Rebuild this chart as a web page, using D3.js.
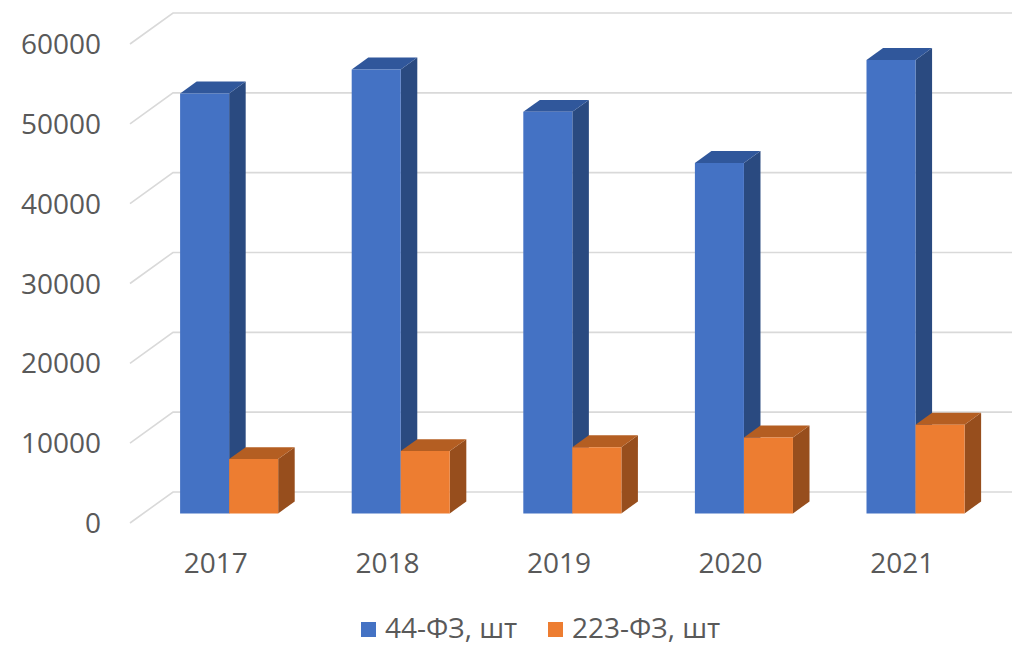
<!DOCTYPE html>
<html>
<head>
<meta charset="utf-8">
<script src="https://cdn.jsdelivr.net/npm/d3@7"></script>
<style>
  html, body { margin: 0; padding: 0; background: #fff; }
  svg { display: block; }
  text { font-family: "Open Sans", "Noto Sans", sans-serif; fill: #595959; }
</style>
</head>
<body>
<svg id="chart" width="1012" height="646"></svg>
<script>
// ---- data ----
const years = ["2017", "2018", "2019", "2020", "2021"];
const seriesNames = ["44-ФЗ, шт", "223-ФЗ, шт"];
const fz44 = [52600, 55600, 50300, 43900, 56800];
const fz223 = [6800, 7800, 8300, 9500, 11100];
const yTicks = [0, 10000, 20000, 30000, 40000, 50000, 60000];

// ---- styles ----
const faceColors = [
  { front: "#4472C4", side: "#2A4A80", top: "#30579B" },
  { front: "#ED7D31", side: "#974E1D", top: "#B45E22" }
];

const W = 1012, H = 646;
const svg = d3.select("#chart");

// oblique projection: floor front-left corner and depth vector
const origin = { x: 130, y: 523 };
const depth = { x: 43, y: -31 };
const barDepthStart = 0.31, barDepthEnd = 0.695;

const yScale = d3.scaleLinear().domain([0, 60000]).range([0, 479]);
const x0 = d3.scaleBand().domain(years).range([130, 988]).padding(0);
const groupW = x0.step() * 2 / 3.5;
const x1 = d3.scaleBand().domain(seriesNames).range([0, groupW]).padding(0);

function P(x, f, v) {
  return [x + f * depth.x, origin.y + f * depth.y - yScale(v)];
}

// gridlines
const xLeft = x0.range()[0], xRight = x0.range()[1];
svg.append("g").selectAll("path").data(yTicks).join("path")
  .attr("d", v => {
    const a = P(xLeft, 0, v), b = P(xLeft, 1, v), c = P(xRight, 1, v);
    return `M${a[0]},${a[1]}L${b[0]},${b[1]}L${c[0]},${c[1]}`;
  })
  .attr("fill", "none")
  .attr("stroke", "#D9D9D9")
  .attr("stroke-width", 1.6);

// y tick labels
svg.append("g").selectAll("text").data(yTicks).join("text")
  .attr("x", 101)
  .attr("y", v => P(xLeft, 0, v)[1])
  .attr("dy", "0.36em")
  .attr("text-anchor", "end")
  .style("font-size", "28px")
  .text(v => v);

// bars
const bars = [];
years.forEach((yr, i) => {
  [fz44, fz223].forEach((arr, s) => {
    bars.push({ yr, s, v: arr[i] });
  });
});

const gBars = svg.append("g");
bars.forEach(d => {
  const xl = x0(d.yr) + (x0.step() - groupW) / 2 + x1(seriesNames[d.s]);
  const xr = xl + x1.bandwidth();
  const c = faceColors[d.s];
  const f0 = barDepthStart, f1 = barDepthEnd;
  const poly = pts => "M" + pts.map(p => p.join(",")).join("L") + "Z";
  // side face (right)
  gBars.append("path")
    .attr("d", poly([P(xr, f0, 0), P(xr, f1, 0), P(xr, f1, d.v), P(xr, f0, d.v)]))
    .attr("fill", c.side);
  // top face
  gBars.append("path")
    .attr("d", poly([P(xl, f0, d.v), P(xr, f0, d.v), P(xr, f1, d.v), P(xl, f1, d.v)]))
    .attr("fill", c.top);
  // front face
  gBars.append("path")
    .attr("d", poly([P(xl, f0, 0), P(xr, f0, 0), P(xr, f0, d.v), P(xl, f0, d.v)]))
    .attr("fill", c.front);
});

// category labels
svg.append("g").selectAll("text").data(years).join("text")
  .attr("x", d => x0(d) + x0.step() / 2)
  .attr("y", 573)
  .attr("text-anchor", "middle")
  .style("font-size", "28px")
  .text(d => d);

// legend
const legendX = [361, 548];
const lg = svg.append("g").selectAll("g").data(seriesNames).join("g")
  .attr("transform", (d, i) => `translate(${legendX[i]},622)`);
lg.append("rect").attr("width", 15).attr("height", 15)
  .attr("fill", (d, i) => faceColors[i].front);
lg.append("text").attr("x", 24).attr("y", 16)
  .style("font-size", "28px")
  .text(d => d);
</script>
</body>
</html>
